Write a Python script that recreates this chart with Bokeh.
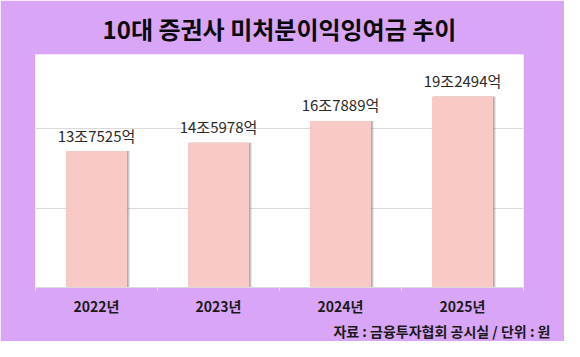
from bokeh.plotting import figure
from bokeh.models import FixedTicker, ColumnDataSource, Range1d, Title
from bokeh.core.properties import value
from bokeh.embed import file_html
from bokeh.resources import INLINE

# data (unit: 억원)
years = ["2022년", "2023년", "2024년", "2025년"]
values = [137525, 145978, 167889, 192494]
grid_ticks = [0, 80000, 160000]

title_text = "10대 증권사 미처분이익잉여금 추이"
source_text = "자료 : 금융투자협회 공시실 / 단위 : 원"

PURPLE = "#D9A5F6"
BAR = "#F9C9C6"
FONT = "Noto Sans CJK KR"

W, H = 564, 341
LEFT, RIGHT, TOP, BOTTOM = 35, 41, 52, 52

xs = [i + 0.5 for i in range(len(years))]
labels = [f"{v // 10000}조{v % 10000}억" for v in values]
src = ColumnDataSource(dict(x=xs, top=values, label=labels,
                            sx1=[x + 0.012 for x in xs],
                            sx2=[x + 0.022 for x in xs]))

p = figure(width=W, height=H, output_backend="svg", toolbar_location=None,
           x_range=Range1d(0, len(years)), y_range=Range1d(0, 234900),
           min_border_left=LEFT, min_border_right=RIGHT, min_border_top=TOP, min_border_bottom=BOTTOM)
p.background_fill_color = "white"
p.border_fill_color = PURPLE
p.outline_line_color = None

p.title.text = title_text
p.title.align = "center"
p.title.text_font = FONT
p.title.text_font_size = "24px"
p.title.text_font_style = "bold"
p.title.text_color = "#0a0a0a"
p.title.standoff = 17

p.vbar(x="sx2", top="top", width=0.5, bottom=0, source=src, fill_color="#777777", fill_alpha=0.25, line_color=None)
p.vbar(x="sx1", top="top", width=0.5, bottom=0, source=src, fill_color="#777777", fill_alpha=0.45, line_color=None)
p.vbar(x="x", top="top", width=0.5, bottom=0, source=src, fill_color=BAR, line_color=None)

p.text(x="x", y="top", text="label", source=src, text_align="center", text_baseline="middle",
       y_offset=-16, text_font=value(FONT), text_font_size="15px", text_color="#2a2a2a")

p.yaxis.visible = False
p.ygrid.ticker = FixedTicker(ticks=grid_ticks)
p.ygrid.grid_line_color = "#DADADA"
p.xgrid.grid_line_color = None

ax = p.xaxis[0]
ax.ticker = FixedTicker(ticks=xs, minor_ticks=list(range(len(years) + 1)))
ax.major_label_overrides = {x: y for x, y in zip(xs, years)}
ax.major_tick_line_color = None
ax.major_tick_out = 0
ax.major_tick_in = 0
ax.minor_tick_line_color = "#E8E8E8"
ax.minor_tick_out = 3
ax.minor_tick_in = 0
ax.axis_line_color = "#DADADA"
ax.major_label_standoff = 5
ax.major_label_text_font = FONT
ax.major_label_text_font_size = "14px"
ax.major_label_text_font_style = "bold"
ax.major_label_text_color = "#1a1a1a"

p.add_layout(Title(text=source_text, align="right", text_font=FONT, text_font_size="14px",
                   text_font_style="bold", text_color="#1a1a1a", standoff=1, offset=-27), "below")

open("out.html", "w").write(file_html(p, INLINE))
